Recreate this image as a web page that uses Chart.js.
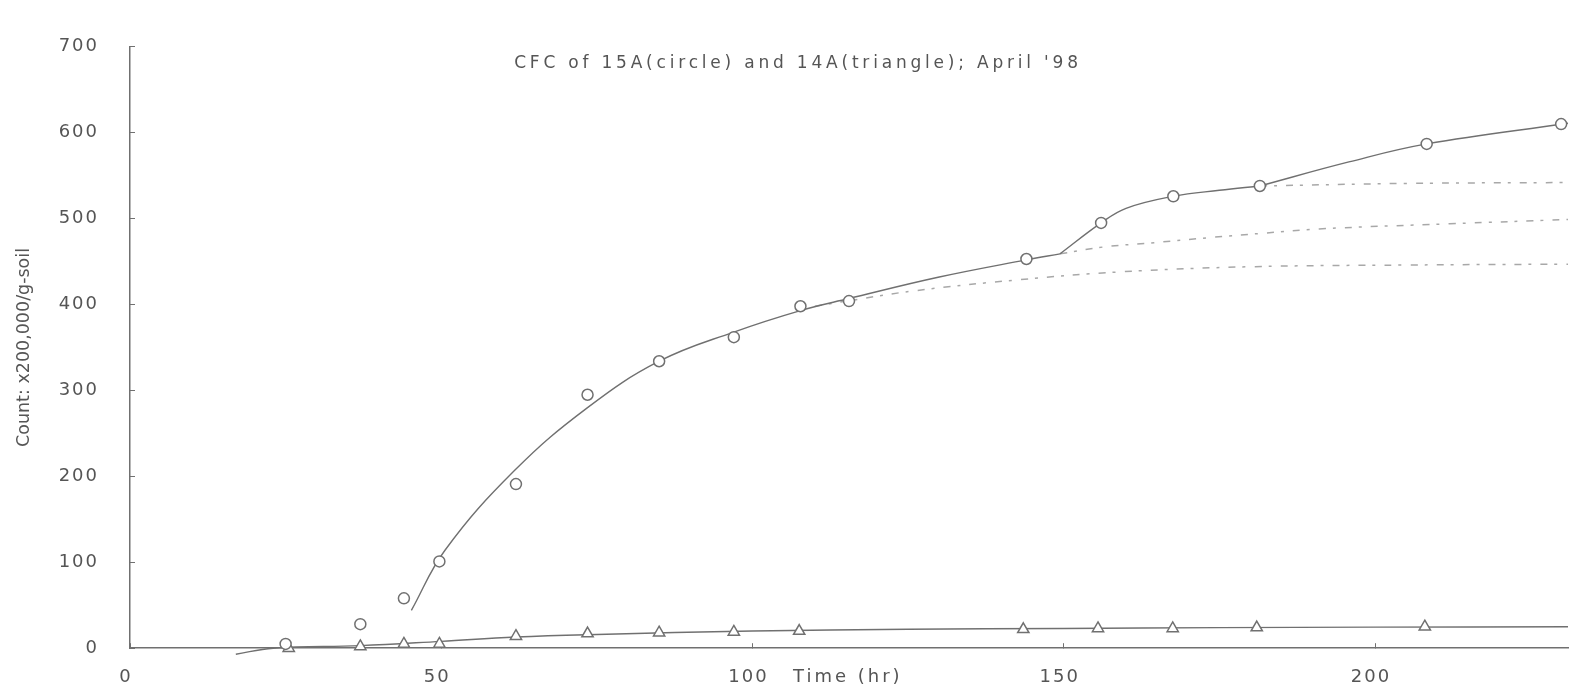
<!DOCTYPE html>
<html>
<head>
<meta charset="utf-8">
<script src="https://cdn.jsdelivr.net/npm/chart.js@4/dist/chart.umd.min.js"></script>
<style>
    body { margin: 0; background: #fff; }
    #wrap { width: 1576px; height: 695px; position: relative; }
</style>
</head>
<body>
<div id="wrap"><canvas id="chart"></canvas></div>
<script>
var hours15A = [25, 37, 44, 49.7, 62, 73.5, 85, 97, 107.7, 115.5, 144, 156, 167.6, 181.5, 208.3, 229.9];
var count15A = [5, 28, 58, 101, 191, 295, 334, 362, 398, 404, 453, 495, 526, 538, 587, 610];
var hours14A = [25.5, 37, 44, 49.7, 62, 73.5, 85, 97, 107.5, 143.5, 155.5, 167.5, 181, 208];
var count14A = [0, 2, 5, 5, 14, 17, 18, 19, 20, 22, 23, 23, 24, 25];

// hand drawn fit curves (hr, count)
var fit15AEarly = [[45.2, 44], [50.6, 114], [61.8, 207], [73.5, 280], [85, 334], [97, 368], [107.7, 393], [115.5, 407], [130, 432], [144, 452], [149.4, 459]];
var fit15AMid = [[149.4, 459], [156, 495], [160, 512], [167.6, 526], [175, 533], [181.5, 538]];
var fit15ALate = [[181.5, 538], [195.8, 566], [208.3, 587], [231, 611]];
var fit14A = [[17, -7], [23, 0], [37, 3], [50, 8], [62, 13], [75, 16], [100, 20], [125, 22], [150, 23], [175, 24], [200, 24.5], [231, 25]];

// dotted projections
var proj1 = [[110, 398], [116, 405], [126, 416], [143, 429], [159, 438], [180, 444], [205, 446], [231, 447]];
var proj2 = [[149.4, 459], [156.4, 467], [164.5, 472], [173.5, 478], [182, 483], [191, 488], [212, 494], [231, 499]];
var proj3 = [[181.5, 538], [205, 541], [231, 542]];

var xTicks = [0, 50, 100, 150, 200];
var yTicks = [0, 100, 200, 300, 400, 500, 600, 700];

var chartTitle = "CFC of 15A(circle) and 14A(triangle); April '98";
var xTitle = "Time (hr)";
var yTitle = "Count: x200,000/g-soil";

var toXY = arr => arr.map(p => ({ x: p[0], y: p[1] }));
var lineGrey = "#707070";
var textGrey = "#555";

function curve(pts) {
    return {
        data: toXY(pts),
        showLine: true,
        borderColor: lineGrey,
        borderWidth: 1.4,
        pointRadius: 0,
        tension: 0.4,
        order: 2,
        clip: false
    };
}

function dotted(pts) {
    return {
        data: toXY(pts),
        showLine: true,
        borderColor: "#a8a8a8",
        borderWidth: 1.5,
        borderDash: [7, 7, 3, 9],
        pointRadius: 0,
        tension: 0.4,
        order: 3,
        clip: false
    };
}

var textPlugin = {
    id: "texts",
    beforeDraw(chart) {
        chart.ctx.letterSpacing = "2px";
    },
    afterDraw(chart) {
        var ctx = chart.ctx;
        var area = chart.chartArea;
        var x = chart.scales.x;
        ctx.save();
        ctx.fillStyle = textGrey;
        ctx.textAlign = "center";
        ctx.textBaseline = "middle";

        ctx.letterSpacing = "3.8px";
        ctx.font = '17px "DejaVu Sans"';
        ctx.fillText(chartTitle, x.getPixelForValue(107.3), area.top + 16.5);

        ctx.letterSpacing = "3px";
        ctx.font = '18px "DejaVu Sans"';
        ctx.fillText(xTitle, x.getPixelForValue(115.3), area.bottom + 29);

        ctx.letterSpacing = "0px";
        ctx.font = '17.5px "DejaVu Sans"';
        ctx.translate(24, (area.top + area.bottom) / 2);
        ctx.rotate(-Math.PI / 2);
        ctx.fillText(yTitle, 0, 0);
        ctx.restore();
    }
};

new Chart(document.getElementById("chart"), {
    type: "scatter",
    data: {
        datasets: [
            {
                label: "15A",
                data: hours15A.map((h, i) => ({ x: h, y: count15A[i] })),
                pointStyle: "circle",
                pointRadius: 5.5,
                pointBorderWidth: 1.5,
                pointBorderColor: lineGrey,
                pointBackgroundColor: "#fff",
                order: 0,
                clip: false
            },
            {
                label: "14A",
                data: hours14A.map((h, i) => ({ x: h, y: count14A[i] })),
                pointStyle: "triangle",
                pointRadius: 6.5,
                pointBorderWidth: 1.5,
                pointBorderColor: lineGrey,
                pointBackgroundColor: "#fff",
                order: 1,
                clip: false
            },
            curve(fit15AEarly),
            curve(fit15AMid),
            curve(fit15ALate),
            curve(fit14A),
            dotted(proj1),
            dotted(proj2),
            dotted(proj3)
        ]
    },
    options: {
        responsive: true,
        maintainAspectRatio: false,
        animation: false,
        layout: { padding: { top: 21, right: 0, bottom: 0, left: 0 } },
        plugins: {
            legend: { display: false },
            tooltip: { enabled: false }
        },
        scales: {
            x: {
                type: "linear",
                min: 0,
                max: 231,
                afterBuildTicks: s => { s.ticks = xTicks.map(v => ({ value: v })); },
                afterFit: s => { s.height = 40; },
                border: { display: true, color: lineGrey, width: 1.5 },
                grid: { display: true, drawOnChartArea: false, drawTicks: true, tickLength: -5, color: lineGrey },
                ticks: {
                    color: textGrey,
                    padding: 23,
                    labelOffset: -4,
                    maxRotation: 0,
                    font: { family: "DejaVu Sans", size: 18 }
                }
            },
            y: {
                type: "linear",
                min: 0,
                max: 700,
                afterBuildTicks: s => { s.ticks = yTicks.map(v => ({ value: v })); },
                afterFit: s => { s.width = 130; },
                border: { display: true, color: lineGrey, width: 1.5 },
                grid: { display: true, drawOnChartArea: false, drawTicks: true, tickLength: -5, color: lineGrey },
                ticks: {
                    color: textGrey,
                    padding: 36,
                    font: { family: "DejaVu Sans", size: 18 }
                }
            }
        }
    },
    plugins: [textPlugin]
});
</script>
</body>
</html>
